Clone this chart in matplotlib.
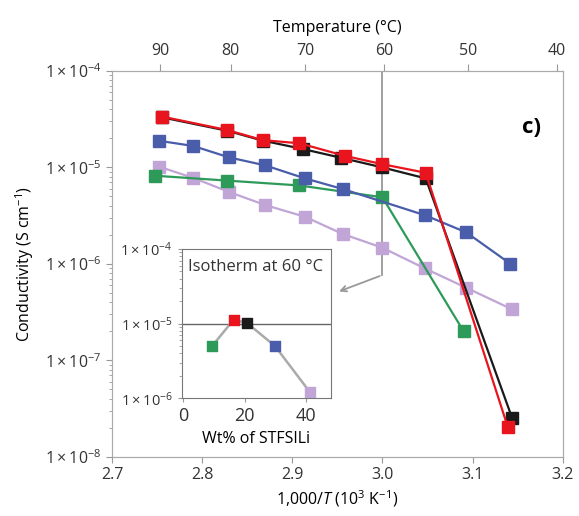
import matplotlib
matplotlib.use("Agg")
import matplotlib.pyplot as plt
import numpy as np
from matplotlib.ticker import FixedLocator, FuncFormatter, NullFormatter

plt.rcParams['font.family'] = ['Open Sans', 'DejaVu Sans']
plt.rcParams['mathtext.fontset'] = 'custom'
plt.rcParams['mathtext.rm'] = 'Open Sans'
plt.rcParams['mathtext.it'] = 'Open Sans:italic'
plt.rcParams['text.color'] = '#333333'
plt.rcParams['xtick.color'] = '#999999'
plt.rcParams['ytick.color'] = '#999999'
plt.rcParams['xtick.labelcolor'] = '#333333'
plt.rcParams['ytick.labelcolor'] = '#333333'

# main data: 1000/T vs conductivity
x_red = [2.756, 2.828, 2.867, 2.908, 2.958, 3.000, 3.048, 3.139]
y_red = [3.36e-5, 2.44e-5, 1.92e-5, 1.78e-5, 1.32e-5, 1.08e-5, 8.8e-6, 2.04e-8]
x_black = [2.756, 2.828, 2.867, 2.912, 2.954, 3.000, 3.048, 3.144]
y_black = [3.3e-5, 2.4e-5, 1.9e-5, 1.55e-5, 1.26e-5, 1.0e-5, 7.7e-6, 2.5e-8]
x_blue = [2.752, 2.790, 2.830, 2.870, 2.914, 2.956, 3.047, 3.093, 3.142]
y_blue = [1.89e-5, 1.67e-5, 1.27e-5, 1.05e-5, 7.7e-6, 5.97e-6, 3.2e-6, 2.12e-6, 1.0e-6]
x_green = [2.748, 2.828, 2.908, 3.000, 3.090]
y_green = [8.2e-6, 7.3e-6, 6.5e-6, 4.9e-6, 2.0e-7]
x_purple = [2.752, 2.790, 2.830, 2.870, 2.914, 2.956, 3.000, 3.047, 3.093, 3.144]
y_purple = [1.02e-5, 7.8e-6, 5.56e-6, 4.07e-6, 3.08e-6, 2.04e-6, 1.47e-6, 8.97e-7, 5.65e-7, 3.37e-7]

# inset: isotherm at 60 C
wt = [9.4, 16.4, 20.8, 29.9, 41.3]
iso = [5.0e-6, 1.13e-5, 1.02e-5, 5.0e-6, 1.2e-6]
iso_colors = ['#2e9a5a', '#e8151f', '#1a1a1a', '#4a5dab', '#c0a5d6']

temps = [90, 80, 70, 60, 50, 40]

c_red, c_black, c_blue, c_green, c_purple = '#e8151f', '#1a1a1a', '#4a5dab', '#2e9a5a', '#c0a5d6'

fig = plt.figure(figsize=(5.79, 5.16), dpi=100)
ax = fig.add_axes([0.1934, 0.1149, 0.7785, 0.7475])

def sci(v, pos):
    e = int(round(np.log10(v)))
    return r'$1\times10^{%d}$' % e

ms = 8
ax.plot(x_purple, y_purple, '-s', color=c_purple, ms=ms, lw=1.6)
ax.plot(x_green, y_green, '-s', color=c_green, ms=ms, lw=1.6)
ax.plot(x_blue, y_blue, '-s', color=c_blue, ms=ms, lw=1.6)
ax.plot(x_black, y_black, '-s', color=c_black, ms=ms, lw=1.6)
ax.plot(x_red, y_red, '-s', color=c_red, ms=ms, lw=1.6)

ax.set_yscale('log')
ax.set_xlim(2.7, 3.2)
ax.set_ylim(1e-8, 1e-4)
ax.set_xticks([2.7, 2.8, 2.9, 3.0, 3.1, 3.2])
ax.set_xticklabels(['2.7', '2.8', '2.9', '3.0', '3.1', '3.2'])
ax.yaxis.set_major_locator(FixedLocator([1e-8, 1e-7, 1e-6, 1e-5, 1e-4]))
ax.yaxis.set_major_formatter(FuncFormatter(sci))
ax.yaxis.set_minor_formatter(NullFormatter())
ax.tick_params(labelsize=11.5, direction='out', length=4)
ax.tick_params(axis='y', which='minor', length=2.5)
ax.set_xlabel(r'1,000/$T$ (10$^3$ K$^{-1}$)', fontsize=11.5)
ax.set_ylabel(r'Conductivity (S cm$^{-1}$)', fontsize=11.5, labelpad=6)
for s in ax.spines.values():
    s.set_color('#aaaaaa')

# top temperature axis
top = ax.twiny()
top.set_xlim(ax.get_xlim())
top.set_xticks([1000 / (t + 273.15) for t in temps])
top.set_xticklabels([str(t) for t in temps])
top.tick_params(labelsize=11.5, direction='out', length=5)
top.set_xlabel('Temperature (°C)', fontsize=11.5, labelpad=8)
for s in top.spines.values():
    s.set_color('#aaaaaa')

# 60 C isotherm pointer
ax.plot([3.0, 3.0], [1e-4, 7.66e-7], color='#999999', lw=1.3, zorder=0)
ax.annotate('', xy=(2.949, 5.06e-7), xytext=(3.0, 7.66e-7),
            arrowprops=dict(arrowstyle='->', color='#999999', lw=1.3))

ax.text(3.165, 2.6e-5, 'c)', fontsize=16, fontweight='bold', color='black',
        ha='center', va='center')

# inset
ins = fig.add_axes([0.3138, 0.2281, 0.2573, 0.2893])
ins.axhline(1e-5, color='#666666', lw=1.0, zorder=1)
ins.plot(wt, iso, '-', color='#aaaaaa', lw=1.8, zorder=2)
ins.scatter(wt, iso, marker='s', c=iso_colors, s=50, zorder=3)
ins.set_yscale('log')
ins.set_xlim(-0.5, 48)
ins.set_ylim(1e-6, 1e-4)
ins.set_xticks([0, 20, 40])
ins.yaxis.set_major_locator(FixedLocator([1e-6, 1e-5, 1e-4]))
ins.yaxis.set_major_formatter(FuncFormatter(sci))
ins.yaxis.set_minor_formatter(NullFormatter())
ins.tick_params(axis='x', labelsize=13, direction='out', length=3)
ins.tick_params(axis='y', labelsize=10.5, direction='out', length=3)
ins.tick_params(axis='y', which='minor', length=2)
ins.set_xlabel('Wt% of STFSILi', fontsize=11.5, labelpad=4)
ins.text(0.04, 0.93, 'Isotherm at 60 °C', transform=ins.transAxes,
         fontsize=12, ha='left', va='top')
for s in ins.spines.values():
    s.set_color('#777777')

fig.savefig('out.png', dpi=100)
